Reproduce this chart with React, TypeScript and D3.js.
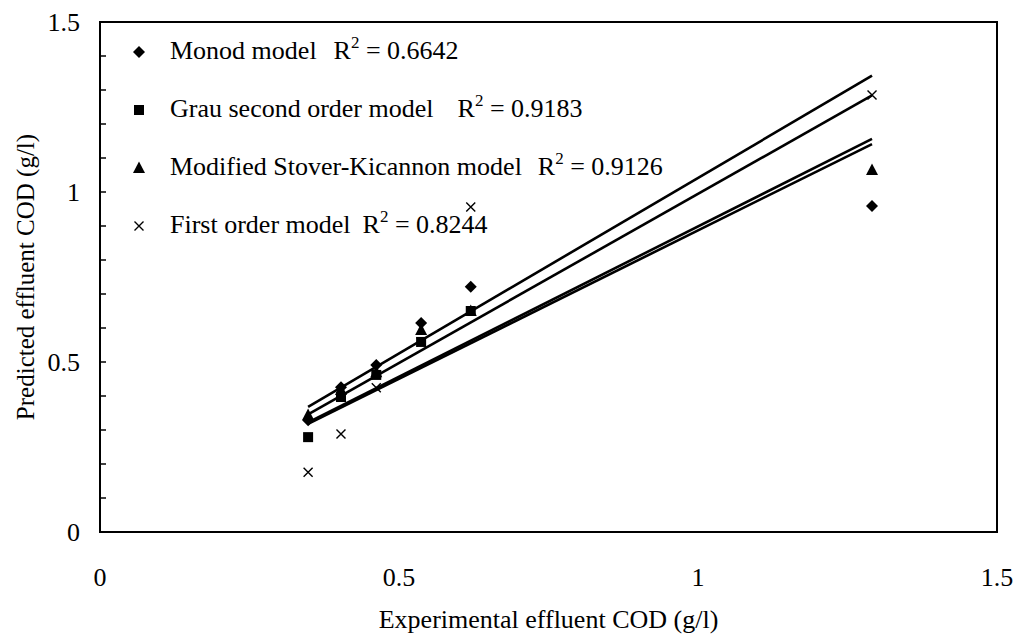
import * as d3 from "d3";

// experimental effluent COD (g/l) on x
const expCOD = [0.348, 0.403, 0.462, 0.537, 0.62, 1.291];
// predicted effluent COD (g/l) per model
const monod = [0.329, 0.426, 0.491, 0.615, 0.721, 0.959];
const grau = [0.279, 0.397, 0.462, 0.559, 0.65, null];
const stover = [0.344, 0.418, 0.47, 0.594, 0.65, 1.065];
const firstOrder = [0.176, 0.288, 0.424, 0.559, 0.956, 1.285];

// fitted lines: value at first and last experimental point
const fitStart = [0.368, 0.322, 0.318, 0.346];
const fitEnd = [1.342, 1.156, 1.141, 1.284];

const modelNames = ["Monod model", "Grau second order model", "Modified Stover-Kicannon model", "First order model"];
const r2Values = ["0.6642", "0.9183", "0.9126", "0.8244"];
const r2Gap = [17, 24, 16, 12];

const axisTicks = [0, 0.5, 1, 1.5];

const W = 1016;
const H = 638;
const margin = { left: 100, top: 22, right: 19, bottom: 106 };
const FONT = "'Liberation Serif', 'Times New Roman', serif";

function Marker({ kind, x, y }: { kind: string; x: number; y: number }) {
    if (kind === "diamond") {
        return <path d={`M${x},${y - 6}L${x + 6},${y}L${x},${y + 6}L${x - 6},${y}Z`} fill="#000" />;
    }
    if (kind === "square") {
        return <rect x={x - 5} y={y - 5} width={10} height={10} fill="#000" />;
    }
    if (kind === "triangle") {
        return <path d={`M${x},${y - 6.5}L${x + 6},${y + 5}L${x - 6},${y + 5}Z`} fill="#000" />;
    }
    return (
        <path
            d={`M${x - 4.5},${y - 4.5}L${x + 4.5},${y + 4.5}M${x + 4.5},${y - 4.5}L${x - 4.5},${y + 4.5}`}
            stroke="#000"
            strokeWidth={1.4}
        />
    );
}

export default function App() {
    const x = d3.scaleLinear().domain([0, 1.5]).range([margin.left, W - margin.right]);
    const y = d3.scaleLinear().domain([0, 1.5]).range([H - margin.bottom, margin.top]);
    const minorTicks = d3.range(0, 1.5001, 0.1);

    // crosses go first so the one behind the square stays hidden
    const series = [
        { kind: "cross", values: firstOrder },
        { kind: "triangle", values: stover },
        { kind: "diamond", values: monod },
        { kind: "square", values: grau },
    ];
    const legendKinds = ["diamond", "square", "triangle", "cross"];

    const line = d3.line<[number, number]>().x((d) => x(d[0])).y((d) => y(d[1]));
    const x0 = expCOD[0];
    const x1 = expCOD[expCOD.length - 1];

    return (
        <svg width={W} height={H} style={{ position: "absolute", left: 0, top: 0 }} fontFamily={FONT}>
            <rect width={W} height={H} fill="#fff" />

            {/* plot frame */}
            <rect
                x={x(0)}
                y={y(1.5)}
                width={x(1.5) - x(0)}
                height={y(0) - y(1.5)}
                fill="none"
                stroke="#000"
                strokeWidth={2}
            />

            {/* y ticks, inward */}
            {minorTicks.map((t, i) => (
                <line key={i} x1={x(0)} x2={x(0) + 6} y1={y(t)} y2={y(t)} stroke="#000" strokeWidth={1.5} />
            ))}

            {axisTicks.map((t) => (
                <text key={"y" + t} x={80} y={y(t)} dy="0.35em" textAnchor="end" fontSize={26}>
                    {d3.format("")(t)}
                </text>
            ))}
            {axisTicks.map((t) => (
                <text key={"x" + t} x={x(t)} y={586} textAnchor="middle" fontSize={26}>
                    {d3.format("")(t)}
                </text>
            ))}

            <text x={(x(0) + x(1.5)) / 2} y={628} textAnchor="middle" fontSize={26}>
                Experimental effluent COD (g/l)
            </text>
            <text
                transform={`translate(34, ${(y(0) + y(1.5)) / 2}) rotate(-90)`}
                textAnchor="middle"
                fontSize={25}
            >
                Predicted effluent COD (g/l)
            </text>

            {/* data markers */}
            {series.map((s) =>
                s.values.map((v, i) =>
                    v == null ? null : <Marker key={s.kind + i} kind={s.kind} x={x(expCOD[i])} y={y(v)} />
                )
            )}

            {/* fitted lines */}
            {fitStart.map((s, i) => (
                <path
                    key={"fit" + i}
                    d={line([[x0, s], [x1, fitEnd[i]]]) || ""}
                    fill="none"
                    stroke="#000"
                    strokeWidth={2.6}
                />
            ))}

            {/* legend */}
            {modelNames.map((name, i) => {
                const ly = 52 + i * 58;
                return (
                    <g key={name}>
                        <Marker kind={legendKinds[i]} x={139} y={ly} />
                        <text x={170} y={ly + 7} fontSize={26}>
                            <tspan>{name}</tspan>
                            <tspan dx={r2Gap[i]}>R</tspan>
                            <tspan dy={-11} fontSize={17}>2</tspan>
                            <tspan dy={11}>{" = " + r2Values[i]}</tspan>
                        </text>
                    </g>
                );
            })}
        </svg>
    );
}
